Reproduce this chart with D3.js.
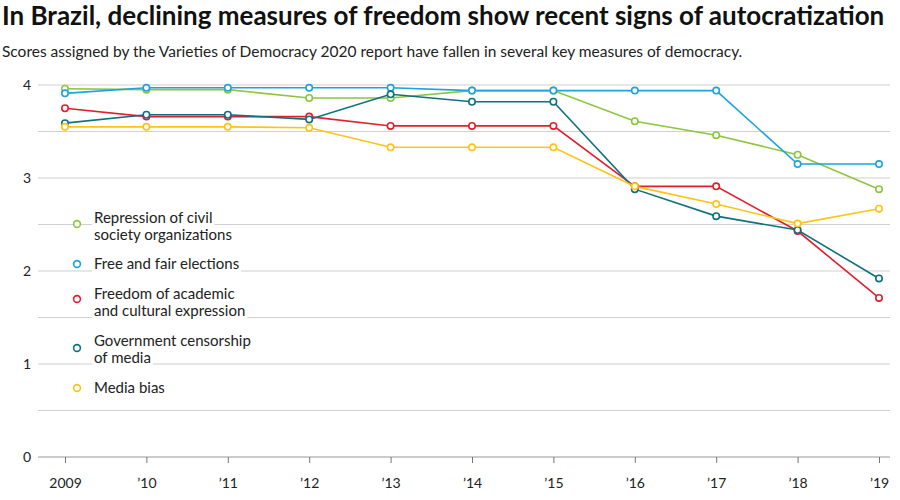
<!DOCTYPE html>
<html>
<head>
<meta charset="utf-8">
<script src="https://cdn.jsdelivr.net/npm/d3@7"></script>
<style>
  body { margin: 0; background: #fff; }
  svg { display: block; font-family: Lato, "Noto Sans", sans-serif; }
</style>
</head>
<body>
<div class="container"></div>
<script>
// DATA
const years = [2009, 2010, 2011, 2012, 2013, 2014, 2015, 2016, 2017, 2018, 2019];
const yearLabels = ["2009", "\u201910", "\u201911", "\u201912", "\u201913", "\u201914", "\u201915", "\u201916", "\u201917", "\u201918", "\u201919"];
const yTicks = [0, 1, 2, 3, 4];
const gridValues = [0.5, 1, 1.5, 2, 2.5, 3, 3.5, 4];

const seriesNames = [
  ["Repression of civil", "society organizations"],
  ["Free and fair elections"],
  ["Freedom of academic", "and cultural expression"],
  ["Government censorship", "of media"],
  ["Media bias"]
];
const seriesColors = ["#8cc63f", "#1ca3e0", "#e31e2d", "#0e7180", "#fdc414"];

const civilSociety = [3.96, 3.95, 3.95, 3.86, 3.86, 3.94, 3.94, 3.61, 3.46, 3.25, 2.88];
const elections    = [3.91, 3.97, 3.97, 3.97, 3.97, 3.94, 3.94, 3.94, 3.94, 3.15, 3.15];
const academic     = [3.75, 3.66, 3.66, 3.66, 3.56, 3.56, 3.56, 2.91, 2.91, 2.43, 1.71];
const censorship   = [3.59, 3.68, 3.68, 3.63, 3.90, 3.82, 3.82, 2.88, 2.59, 2.44, 1.92];
const mediaBias    = [3.55, 3.55, 3.55, 3.54, 3.33, 3.33, 3.33, 2.91, 2.72, 2.51, 2.67];

const seriesValues = [civilSociety, elections, academic, censorship, mediaBias];

// SETUP
const width = 900, height = 500;

const svg = d3.select("div.container")
  .append("svg")
  .attr("width", width)
  .attr("height", height);

// title and subtitle
svg.append("text")
  .attr("x", 2)
  .attr("y", 25)
  .style("font-size", "26px")
  .style("font-weight", "bold")
  .attr("fill", "#111")
  .text("In Brazil, declining measures of freedom show recent signs of autocratization");

svg.append("text")
  .attr("x", 2)
  .attr("y", 57)
  .style("font-size", "15.5px")
  .attr("fill", "#222")
  .text("Scores assigned by the Varieties of Democracy 2020 report have fallen in several key measures of democracy.");

// scales
const x = d3.scaleLinear()
  .domain([2009, 2019])
  .range([65, 879]);

const y = d3.scaleLinear()
  .domain([0, 4])
  .range([457, 85]);

// gridlines every half point
svg.append("g")
  .selectAll("line")
  .data(gridValues)
  .enter()
  .append("line")
  .attr("x1", 38)
  .attr("x2", 890)
  .attr("y1", d => y(d))
  .attr("y2", d => y(d))
  .attr("stroke", "#d0d0d0")
  .attr("stroke-width", 1.2);

// y labels on whole numbers
svg.append("g")
  .selectAll("text")
  .data(yTicks)
  .enter()
  .append("text")
  .attr("x", 31)
  .attr("y", d => y(d))
  .attr("dy", "0.35em")
  .attr("text-anchor", "end")
  .style("font-size", "14px")
  .attr("fill", "#222")
  .text(d => d);

// x axis: baseline, ticks below, labels
const xAxis = d3.axisBottom(x)
  .tickValues(years)
  .tickFormat((d, i) => yearLabels[i])
  .tickSize(6)
  .tickPadding(15);

const axisG = svg.append("g")
  .attr("transform", `translate(0, ${y(0)})`)
  .call(xAxis);

axisG.select(".domain").remove();
axisG.insert("line", ":first-child")
  .attr("x1", 38)
  .attr("x2", 890)
  .attr("stroke", "#9a9a9a")
  .attr("stroke-width", 1.2);
axisG.selectAll(".tick line").attr("stroke", "#777");
axisG.selectAll(".tick text")
  .style("font-size", "14px")
  .style("font-family", "Lato, 'Noto Sans', sans-serif")
  .attr("fill", "#222");

// legend, drawn over the gridlines with white backgrounds
const legendCircleY = [224, 264, 299, 348, 388];
const legendTextY = [[217.5, 235], [264], [293.5, 311], [340.5, 358], [388]];

const legend = svg.append("g");

seriesNames.forEach((lines, i) => {
  const g = legend.append("g");
  g.append("circle")
    .attr("cx", 77)
    .attr("cy", legendCircleY[i])
    .attr("r", 3.4)
    .attr("fill", "#fff")
    .attr("stroke", seriesColors[i])
    .attr("stroke-width", 1.6);
  lines.forEach((t, j) => {
    const bg = g.append("rect").attr("fill", "#fff");
    const txt = g.append("text")
      .attr("x", 94)
      .attr("y", legendTextY[i][j])
      .attr("dy", "0.35em")
      .style("font-size", "15px")
      .attr("fill", "#222")
      .text(t);
    const b = txt.node().getBBox();
    bg.attr("x", b.x - 2)
      .attr("y", legendTextY[i][j] - 6)
      .attr("width", b.width + 4)
      .attr("height", 14);
  });
});

// lines and points
const line = d3.line()
  .x((d, i) => x(years[i]))
  .y(d => y(d));

const plot = svg.append("g");

seriesValues.forEach((vals, i) => {
  plot.append("path")
    .datum(vals)
    .attr("d", line)
    .attr("fill", "none")
    .attr("stroke", seriesColors[i])
    .attr("stroke-width", 1.6);
});

seriesValues.forEach((vals, i) => {
  plot.append("g")
    .selectAll("circle")
    .data(vals)
    .enter()
    .append("circle")
    .attr("cx", (d, j) => x(years[j]))
    .attr("cy", d => y(d))
    .attr("r", 3.2)
    .attr("fill", "#fff")
    .attr("stroke", seriesColors[i])
    .attr("stroke-width", 1.6);
});
</script>
</body>
</html>
